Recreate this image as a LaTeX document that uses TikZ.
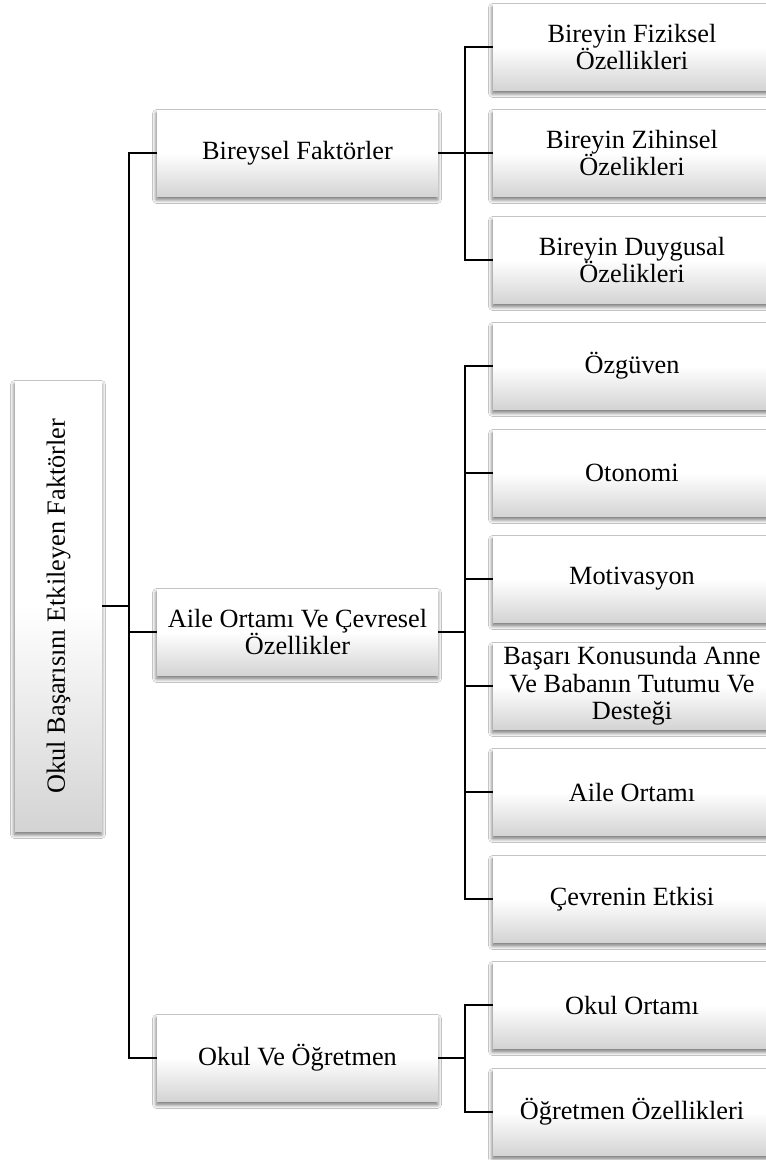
\documentclass[tikz,border=0pt]{standalone}
\usepackage{fontspec}
\setmainfont{Liberation Serif}
\usetikzlibrary{shadows.blur}
\begin{document}
\begin{tikzpicture}[x=1pt,y=-1pt,
  box/.style={inner sep=0pt, align=center, font=\fontsize{26.3}{27.5}\selectfont,
    top color=white, bottom color=black!17, middle color=white,
    blur shadow={shadow xshift=-0.5pt, shadow yshift=-3.5pt, shadow blur steps=8, shadow opacity=60, shadow blur radius=4pt}},
  midbox/.style={box, minimum width=281pt, minimum height=86pt},
  leafbox/.style={box, minimum width=278pt, minimum height=86pt},
  conn/.style={line width=2.6pt, black}]
\clip (0,0) rectangle (766,1160);
\fill[white] (0,0) rectangle (766,1160);
% root
\node[box, minimum width=87pt, minimum height=450pt] (r) at (58.5,606) {};
\node[rotate=90, font=\fontsize{26.3}{27.5}\selectfont] (rt) at (r.center) {Okul Başarısını Etkileyen Faktörler};
% mids
\node[midbox] (m1) at (297.5,153) {Bireysel Faktörler};
\node[midbox] (m2) at (297.5,632) {Aile Ortamı Ve Çevresel\\Özellikler};
\node[midbox] (m3) at (297.5,1058) {Okul Ve Öğretmen};
% leaves
\node[leafbox] (l1) at (632,47) {Bireyin Fiziksel\\Özellikleri};
\node[leafbox] (l2) at (632,153) {Bireyin Zihinsel\\Özelikleri};
\node[leafbox] (l3) at (632,260) {Bireyin Duygusal\\Özelikleri};
\node[leafbox] (l4) at (632,366) {Özgüven};
\node[leafbox] (l5) at (632,473) {Otonomi};
\node[leafbox] (l6) at (632,579) {Motivasyon};
\node[leafbox] (l7) at (632,686) {Başarı Konusunda Anne\\Ve Babanın Tutumu Ve\\Desteği};
\node[leafbox] (l8) at (632,792) {Aile Ortamı};
\node[leafbox] (l9) at (632,899) {Çevrenin Etkisi};
\node[leafbox] (l10) at (632,1005) {Okul Ortamı};
\node[leafbox] (l11) at (632,1112) {Öğretmen Özellikleri};
% connectors
\coordinate (rb) at (129,606);
\draw[conn] (r.east) -- (rb);
\foreach \m in {m1,m2,m3} \draw[conn] (\m.west) -| (rb);
\coordinate (b1) at (465,153);
\coordinate (b2) at (465,632);
\coordinate (b3) at (465,1058);
\draw[conn] (m1.east) -- (b1);
\draw[conn] (m2.east) -- (b2);
\draw[conn] (m3.east) -- (b3);
\foreach \l in {l1,l2,l3} \draw[conn] (\l.west) -| (b1);
\foreach \l in {l4,l5,l6,l7,l8,l9} \draw[conn] (\l.west) -| (b2);
\foreach \l in {l10,l11} \draw[conn] (\l.west) -| (b3);
\end{tikzpicture}
\end{document}
